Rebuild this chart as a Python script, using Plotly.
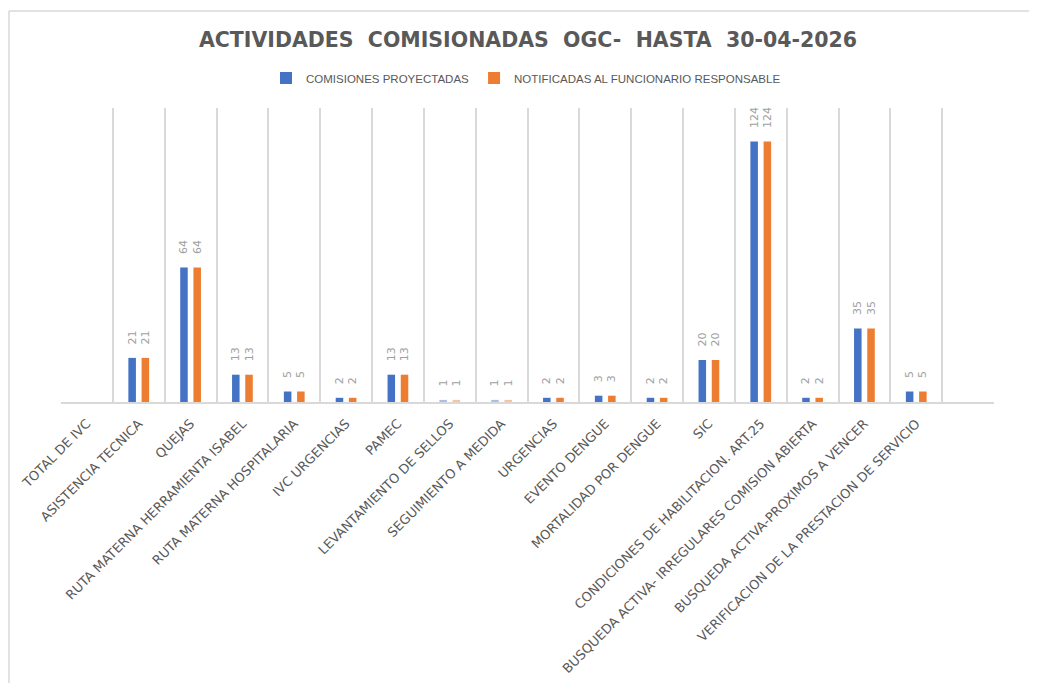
import plotly.graph_objects as go

categories = [
    "TOTAL DE IVC",
    "ASISTENCIA TECNICA",
    "QUEJAS",
    "RUTA MATERNA HERRAMIENTA ISABEL",
    "RUTA MATERNA HOSPITALARIA",
    "IVC URGENCIAS",
    "PAMEC",
    "LEVANTAMIENTO DE SELLOS",
    "SEGUIMIENTO A MEDIDA",
    "URGENCIAS",
    "EVENTO DENGUE",
    "MORTALIDAD POR DENGUE",
    "SIC",
    "CONDICIONES DE HABILITACION. ART.25",
    "BUSQUEDA ACTIVA- IRREGULARES COMISION ABIERTA",
    "BUSQUEDA ACTIVA-PROXIMOS A VENCER",
    "VERIFICACION DE LA PRESTACION DE SERVICIO",
    " ",
]
comisiones_proyectadas = [None, 21, 64, 13, 5, 2, 13, 1, 1, 2, 3, 2, 20, 124, 2, 35, 5, None]
notificadas = [None, 21, 64, 13, 5, 2, 13, 1, 1, 2, 3, 2, 20, 124, 2, 35, 5, None]

series_names = ["COMISIONES PROYECTADAS", "NOTIFICADAS AL FUNCIONARIO RESPONSABLE"]
colors = ["#4472C4", "#ED7D31"]

# lighter (faded) points in the original
opac = [0.45 if c in ("LEVANTAMIENTO DE SELLOS", "SEGUIMIENTO A MEDIDA") else 1 for c in categories]

fig = go.Figure()
for name, vals, col in zip(series_names, [comisiones_proyectadas, notificadas], colors):
    fig.add_trace(go.Bar(
        x=categories, y=vals, name=name,
        marker=dict(color=col, opacity=opac, line=dict(width=0)),
        text=["" if v is None else "   " + str(v) for v in vals],
        texttemplate="%{text}",
        textposition="outside", textangle=-90, constraintext="none",
        textfont=dict(family="DejaVu Sans", size=11, color="#a0a0a0"),
        cliponaxis=False,
    ))

# the page body adds an 8px offset
OFF = 8
W, H = 1037 - OFF, 683 - OFF
L, R, T, B = 61 - OFF, 43, 108 - OFF, 281
pw, ph = W - L - R, H - T - B

def px_x(p):
    return (p - OFF - L) / pw

def px_y(p):
    return (H - B - (p - OFF)) / ph

border = "#d9d9d9"
shapes = [
    dict(type="line", xref="paper", yref="paper", x0=px_x(9), x1=px_x(1045),
         y0=px_y(11), y1=px_y(11), line=dict(color=border, width=1.5)),
    dict(type="line", xref="paper", yref="paper", x0=px_x(9), x1=px_x(9),
         y0=px_y(11), y1=px_y(700), line=dict(color=border, width=1.5)),
]

fig.update_layout(
    width=W, height=H,
    margin=dict(l=L, r=R, t=T, b=B, autoexpand=False),
    paper_bgcolor="white", plot_bgcolor="white",
    title=dict(
        text="ACTIVIDADES  COMISIONADAS  OGC-  HASTA  30-04-2026",
        x=px_x(528), xref="paper", xanchor="center", y=1 - (40 - OFF) / H, yanchor="middle",
        font=dict(family="DejaVu Sans", size=20.5, color="#595959", weight="bold"),
    ),
    legend=dict(
        orientation="h", x=px_x(526), xanchor="center", xref="paper",
        y=px_y(78), yanchor="middle",
        font=dict(family="Liberation Sans", size=11.5, color="#595959"),
        itemwidth=30, traceorder="normal",
    ),
    barmode="group", bargap=0.49, bargroupgap=0.43,
    xaxis=dict(
        type="category", tickson="boundaries", showgrid=True,
        gridcolor=border, gridwidth=1.5,
        showline=True, linecolor=border, linewidth=2,
        ticks="", tickangle=-45, automargin=False, ticklabelstandoff=7,
        tickfont=dict(family="DejaVu Sans", size=13, color="#595959"),
        range=[-0.5, len(categories) - 0.5],
    ),
    yaxis=dict(range=[0, 140], visible=False, showgrid=False, zeroline=False),
    shapes=shapes,
    showlegend=True,
)

fig.write_html("out.html")
